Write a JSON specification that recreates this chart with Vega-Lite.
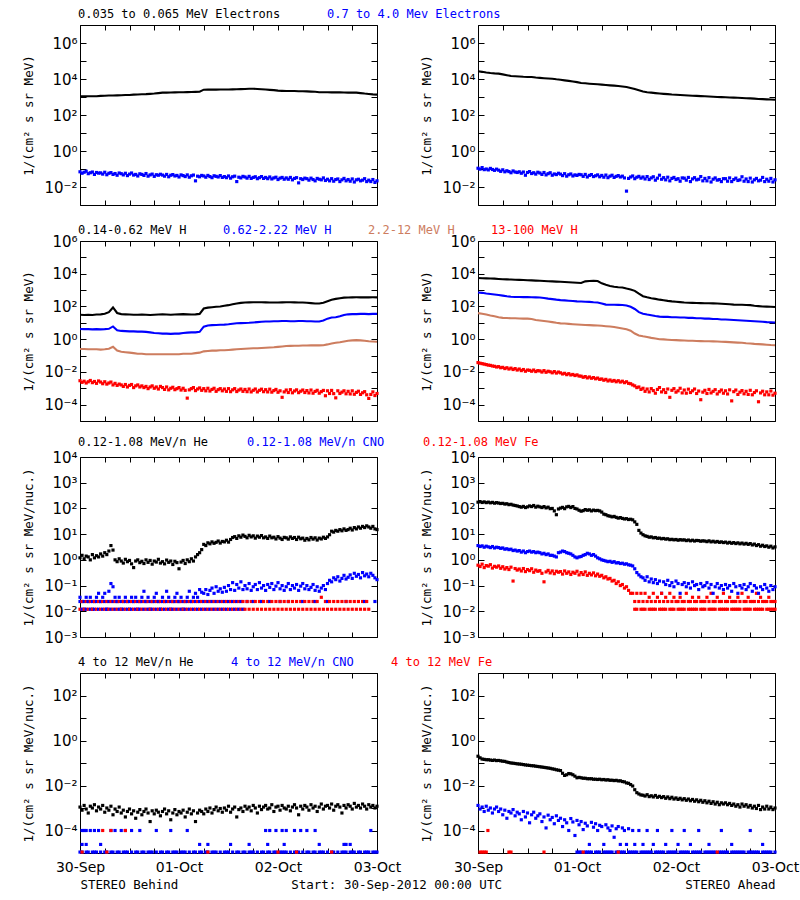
{
"$schema": "https://vega.github.io/schema/vega-lite/v6.json",
"background": "white",
"padding": {"left": 22, "top": 7, "right": 0, "bottom": 0},
"autosize": {"type": "pad"},
"config": {
  "view": {"stroke": "#000000", "strokeWidth": 1},
  "font": "DejaVu Sans",
  "axis": {"domain": false, "grid": false, "tickColor": "#000000", "labelColor": "#000000", "titleColor": "#000000", "labelFont": "DejaVu Sans", "labelFontSize": 14, "titleFont": "DejaVu Sans Mono", "titleFontSize": 12.5, "titleFontWeight": "normal", "labelFlush": false, "labelOverlap": false},
  "axisY": {"labelFontSize": 15},
  "square": {"opacity": 1, "size": 10, "clip": true},
  "line": {"strokeWidth": 2.1, "clip": true}
},
"concat": [
{
"width": 297, "height": 180,
"data": {"values": [
 {"t": [0,1,2,3,4,5,6,7,8,9,10,11,12,13,14,15,16,17,18,19,20,21,22,23,24,25,26,27,28,29,30,31,32,33,34,35,36,37,38,39,40,41,42,43,44,45,46,47,48,49,50,51,52,53,54,55,56,57,58,59,60,61,62,63,64,65,66,67,68,69,70,71,72],
  "a": [1090,1090,1100,1100,1110,1150,1180,1200,1210,1230,1260,1280,1300,1350,1380,1420,1450,1500,1560,1650,1740,1760,1780,1800,1820,1850,1870,1900,1920,1950,2550,2570,2580,2580,2600,2600,2620,2650,2700,2750,2800,2850,2900,2800,2700,2600,2500,2400,2250,2200,2150,2150,2150,2100,2100,2050,2000,1950,1850,1820,1820,1800,1800,1800,1780,1760,1750,1740,1650,1550,1480,1400,1350],
  "b": []},
 {"t": [0,0.5,1,1.5,2,2.5,3,3.5,4,4.5,5,5.5,6,6.5,7,7.5,8,8.5,9,9.5,10,10.5,11,11.5,12,12.5,13,13.5,14,14.5,15,15.5,16,16.5,17,17.5,18,18.5,19,19.5,20,20.5,21,21.5,22,22.5,23,23.5,24,24.5,25,25.5,26,26.5,27,27.5,28,28.5,29,29.5,30,30.5,31,31.5,32,32.5,33,33.5,34,34.5,35,35.5,36,36.5,37,37.5,38,38.5,39,39.5,40,40.5,41,41.5,42,42.5,43,43.5,44,44.5,45,45.5,46,46.5,47,47.5,48,48.5,49,49.5,50,50.5,51,51.5,52,52.5,53,53.5,54,54.5,55,55.5,56,56.5,57,57.5,58,58.5,59,59.5,60,60.5,61,61.5,62,62.5,63,63.5,64,64.5,65,65.5,66,66.5,67,67.5,68,68.5,69,69.5,70,70.5,71,71.5,72],
  "a": [],
  "b": [0.07,0.058,0.066,0.075,0.055,0.062,0.068,0.05,0.064,0.059,0.061,0.052,0.066,0.048,0.058,0.063,0.05,0.056,0.045,0.06,0.055,0.047,0.058,0.043,0.052,0.06,0.046,0.05,0.041,0.054,0.05,0.044,0.056,0.04,0.047,0.052,0.039,0.048,0.045,0.051,0.046,0.04,0.05,0.037,0.045,0.049,0.041,0.044,0.036,0.047,0.043,0.038,0.047,0.035,0.042,0.046,0.022,0.04,0.037,0.044,0.041,0.035,0.044,0.038,0.033,0.042,0.039,0.036,0.043,0.034,0.038,0.033,0.041,0.031,0.037,0.04,0.02,0.035,0.032,0.039,0.036,0.031,0.039,0.03,0.034,0.037,0.029,0.033,0.038,0.03,0.034,0.029,0.036,0.028,0.032,0.035,0.026,0.031,0.034,0.027,0.032,0.027,0.034,0.025,0.03,0.033,0.017,0.029,0.026,0.031,0.029,0.024,0.031,0.026,0.022,0.03,0.027,0.025,0.032,0.023,0.027,0.022,0.029,0.021,0.026,0.028,0.02,0.025,0.03,0.022,0.026,0.021,0.028,0.019,0.025,0.027,0.022,0.024,0.029,0.02,0.024,0.02,0.026,0.018,0.022]}
]},
"transform": [{"flatten": ["t","a","b"]},{"fold": ["a","b"], "as": ["s","v"]},{"filter": "isValid(datum.v) && datum.v > 0"}],
"encoding": {
  "x": {"field": "t", "type": "quantitative", "scale": {"domain": [0,72], "nice": false, "zero": false}, "axis": null},
  "y": {"field": "v", "type": "quantitative", "scale": {"type": "log", "domain": [0.001,10000000]}, "axis": null},
  "color": {"field": "s", "type": "nominal", "scale": {"domain": ["a","b"], "range": ["#000000","#0000ff"]},
    "legend": {"orient": "top", "direction": "horizontal", "title": null, "values": ["a","b"], "labelExpr": "datum.value == 'a' ? '0.035 to 0.065 MeV Electrons' : '0.7 to 4.0 Mev Electrons'", "labelFont": "DejaVu Sans Mono", "labelFontSize": 12, "labelLimit": 0, "labelOffset": -14, "symbolSize": 0, "symbolStrokeWidth": 0, "symbolOpacity": 0, "symbolType": "circle", "columnPadding": 46, "padding": 0, "offset": 4,
      "encode": {"labels": {"update": {"fill": {"signal": "datum.value == 'a' ? '#000000' : '#0000ff'"}}}}}}
},
"layer": [
  {"transform": [{"filter": "datum.s == 'a'"}], "mark": {"type": "line"}},
  {"transform": [{"filter": "datum.s == 'b'"}], "mark": {"type": "square"},
   "encoding": {
     "x": {"field": "t", "type": "quantitative", "scale": {"domain": [0,72], "nice": false, "zero": false}, "axis": {"orient": "bottom", "values": [0,6,12,18,24,30,36,42,48,54,60,66,72], "tickSize": -5, "labels": false, "title": null}},
     "y": {"field": "v", "type": "quantitative", "scale": {"type": "log", "domain": [0.001,10000000]}, "axis": {"orient": "left", "values": [0.001,0.01,0.1,1,10,100,1000,10000,100000,1000000,10000000], "tickSize": -6, "labelPadding": 9, "title": "1/(cm² s sr MeV)", "titlePadding": 8, "labelExpr": "abs(round(log(datum.value)/LN10)) % 2 == 1 ? '' : '10' + replace(replace(replace(replace(replace(replace(replace(replace(replace('' + round(log(datum.value)/LN10), '-', '⁻'), '0', '⁰'), '1', '¹'), '2', '²'), '3', '³'), '4', '⁴'), '5', '⁵'), '6', '⁶'), '7', '⁷')"}}}},
  {"transform": [{"filter": "datum.t == 0"}], "mark": {"type": "point", "opacity": 0},
   "encoding": {
     "x": {"field": "t", "type": "quantitative", "scale": {"domain": [0,72], "nice": false, "zero": false}, "axis": {"orient": "top", "values": [0,6,12,18,24,30,36,42,48,54,60,66,72], "tickSize": -5, "labels": false, "title": null}},
     "y": {"field": "v", "type": "quantitative", "scale": {"type": "log", "domain": [0.001,10000000]}, "axis": {"orient": "right", "values": [0.001,0.01,0.1,1,10,100,1000,10000,100000,1000000,10000000], "tickSize": -6, "labels": false, "title": null}}}}
],
"resolve": {"axis": {"x": "independent", "y": "independent"}}
},
{
"width": 297, "height": 180,
"data": {"values": [
 {"t": [0,1,2,3,4,5,6,7,8,9,10,11,12,13,14,15,16,17,18,19,20,21,22,23,24,25,26,27,28,29,30,31,32,33,34,35,36,37,38,39,40,41,42,43,44,45,46,47,48,49,50,51,52,53,54,55,56,57,58,59,60,61,62,63,64,65,66,67,68,69,70,71,72],
  "a": [26700,25000,23000,21500,20500,19800,18000,16200,14700,14200,13800,13300,13000,12800,12000,11500,11100,10700,10400,9600,9000,8400,7900,7300,6700,6000,5800,5500,5250,5060,4850,4650,4450,4260,4050,3800,3600,3200,2750,2350,2000,1850,1750,1650,1570,1500,1440,1380,1340,1300,1260,1220,1180,1150,1120,1090,1060,1030,1000,980,960,940,920,900,880,860,840,810,780,760,740,725,710],
  "b": []},
 {"t": [0,0.5,1,1.5,2,2.5,3,3.5,4,4.5,5,5.5,6,6.5,7,7.5,8,8.5,9,9.5,10,10.5,11,11.5,12,12.5,13,13.5,14,14.5,15,15.5,16,16.5,17,17.5,18,18.5,19,19.5,20,20.5,21,21.5,22,22.5,23,23.5,24,24.5,25,25.5,26,26.5,27,27.5,28,28.5,29,29.5,30,30.5,31,31.5,32,32.5,33,33.5,34,34.5,35,35.5,36,36.5,37,37.5,38,38.5,39,39.5,40,40.5,41,41.5,42,42.5,43,43.5,44,44.5,45,45.5,46,46.5,47,47.5,48,48.5,49,49.5,50,50.5,51,51.5,52,52.5,53,53.5,54,54.5,55,55.5,56,56.5,57,57.5,58,58.5,59,59.5,60,60.5,61,61.5,62,62.5,63,63.5,64,64.5,65,65.5,66,66.5,67,67.5,68,68.5,69,69.5,70,70.5,71,71.5,72],
  "a": [],
  "b": [0.11,0.098,0.12,0.092,0.1,0.089,0.108,0.094,0.084,0.098,0.086,0.074,0.09,0.07,0.08,0.072,0.062,0.078,0.068,0.064,0.07,0.058,0.068,0.045,0.064,0.072,0.056,0.062,0.052,0.066,0.06,0.05,0.064,0.047,0.055,0.062,0.045,0.053,0.049,0.058,0.052,0.043,0.055,0.04,0.048,0.053,0.041,0.047,0.044,0.05,0.048,0.039,0.05,0.036,0.044,0.049,0.038,0.042,0.047,0.037,0.044,0.035,0.046,0.033,0.04,0.045,0.034,0.039,0.043,0.036,0.04,0.032,0.0059,0.03,0.036,0.041,0.029,0.035,0.039,0.031,0.036,0.028,0.038,0.026,0.032,0.037,0.024,0.031,0.045,0.027,0.033,0.025,0.035,0.022,0.03,0.034,0.026,0.029,0.021,0.032,0.031,0.024,0.034,0.02,0.028,0.033,0.025,0.027,0.038,0.022,0.03,0.022,0.033,0.019,0.027,0.032,0.024,0.026,0.02,0.029,0.029,0.021,0.032,0.02,0.026,0.031,0.023,0.025,0.037,0.021,0.028,0.02,0.031,0.019,0.025,0.03,0.022,0.024,0.034,0.02,0.027,0.021,0.03,0.019,0.025]}
]},
"transform": [{"flatten": ["t","a","b"]},{"fold": ["a","b"], "as": ["s","v"]},{"filter": "isValid(datum.v) && datum.v > 0"}],
"encoding": {
  "x": {"field": "t", "type": "quantitative", "scale": {"domain": [0,72], "nice": false, "zero": false}, "axis": null},
  "y": {"field": "v", "type": "quantitative", "scale": {"type": "log", "domain": [0.001,10000000]}, "axis": null},
  "color": {"field": "s", "type": "nominal", "scale": {"domain": ["a","b"], "range": ["#000000","#0000ff"]}, "legend": null}
},
"layer": [
  {"transform": [{"filter": "datum.s == 'a'"}], "mark": {"type": "line"}},
  {"transform": [{"filter": "datum.s == 'b'"}], "mark": {"type": "square"},
   "encoding": {
     "x": {"field": "t", "type": "quantitative", "scale": {"domain": [0,72], "nice": false, "zero": false}, "axis": {"orient": "bottom", "values": [0,6,12,18,24,30,36,42,48,54,60,66,72], "tickSize": -5, "labels": false, "title": null}},
     "y": {"field": "v", "type": "quantitative", "scale": {"type": "log", "domain": [0.001,10000000]}, "axis": {"orient": "left", "values": [0.001,0.01,0.1,1,10,100,1000,10000,100000,1000000,10000000], "tickSize": -6, "labelPadding": 9, "title": "1/(cm² s sr MeV)", "titlePadding": 8, "labelExpr": "abs(round(log(datum.value)/LN10)) % 2 == 1 ? '' : '10' + replace(replace(replace(replace(replace(replace(replace(replace(replace('' + round(log(datum.value)/LN10), '-', '⁻'), '0', '⁰'), '1', '¹'), '2', '²'), '3', '³'), '4', '⁴'), '5', '⁵'), '6', '⁶'), '7', '⁷')"}}}},
  {"transform": [{"filter": "datum.t == 0"}], "mark": {"type": "point", "opacity": 0},
   "encoding": {
     "x": {"field": "t", "type": "quantitative", "scale": {"domain": [0,72], "nice": false, "zero": false}, "axis": {"orient": "top", "values": [0,6,12,18,24,30,36,42,48,54,60,66,72], "tickSize": -5, "labels": false, "title": null}},
     "y": {"field": "v", "type": "quantitative", "scale": {"type": "log", "domain": [0.001,10000000]}, "axis": {"orient": "right", "values": [0.001,0.01,0.1,1,10,100,1000,10000,100000,1000000,10000000], "tickSize": -6, "labels": false, "title": null}}}}
],
"resolve": {"axis": {"x": "independent", "y": "independent"}}
},
{
"width": 297, "height": 180,
"data": {"values": [
 {"t": [0,1,2,3,4,5,6,7,8,9,10,11,12,13,14,15,16,17,18,19,20,21,22,23,24,25,26,27,28,29,30,31,32,33,34,35,36,37,38,39,40,41,42,43,44,45,46,47,48,49,50,51,52,53,54,55,56,57,58,59,60,61,62,63,64,65,66,67,68,69,70,71,72],
  "a": [31,30,31,30,32,33,36,45,87,40,34,33,32,31,31,32,31,30,31,32,33,32,31,32,33,34,33,32,33,35,75,85,90,95,100,110,120,135,150,165,175,178,180,182,180,178,176,175,176,178,180,180,178,176,175,170,160,150,150,170,210,260,290,320,345,355,360,362,360,358,360,362,360],
  "b": [4.2,4.1,4.1,4.0,4.1,4.0,4.1,4.3,6.0,3.5,3.2,3.1,3.0,3.0,2.9,2.9,2.8,2.6,2.4,2.3,2.2,2.2,2.1,2.2,2.2,2.4,2.5,2.6,2.6,2.8,5.8,6.8,7.2,7.4,7.6,7.8,8.2,8.8,9.4,9.6,9.8,10,10.5,11,11.5,12,12,12.5,12.5,13,13,12.5,12.5,13,13,12.5,12.5,12,12,14,18,21,22,25,30,33,34,34,35,35,34,35,35],
  "c": [0.25,0.25,0.24,0.24,0.24,0.23,0.24,0.26,0.34,0.2,0.17,0.16,0.15,0.14,0.13,0.13,0.12,0.12,0.12,0.12,0.12,0.12,0.12,0.12,0.12,0.13,0.13,0.13,0.14,0.15,0.18,0.19,0.2,0.2,0.21,0.21,0.22,0.23,0.24,0.25,0.26,0.27,0.28,0.28,0.29,0.3,0.31,0.32,0.34,0.36,0.38,0.39,0.4,0.4,0.41,0.41,0.42,0.42,0.42,0.43,0.48,0.55,0.6,0.65,0.72,0.8,0.85,0.87,0.85,0.8,0.75,0.72,0.7],
  "d": []},
 {"t": [0,0.5,1,1.5,2,2.5,3,3.5,4,4.5,5,5.5,6,6.5,7,7.5,8,8.5,9,9.5,10,10.5,11,11.5,12,12.5,13,13.5,14,14.5,15,15.5,16,16.5,17,17.5,18,18.5,19,19.5,20,20.5,21,21.5,22,22.5,23,23.5,24,24.5,25,25.5,26,26.5,27,27.5,28,28.5,29,29.5,30,30.5,31,31.5,32,32.5,33,33.5,34,34.5,35,35.5,36,36.5,37,37.5,38,38.5,39,39.5,40,40.5,41,41.5,42,42.5,43,43.5,44,44.5,45,45.5,46,46.5,47,47.5,48,48.5,49,49.5,50,50.5,51,51.5,52,52.5,53,53.5,54,54.5,55,55.5,56,56.5,57,57.5,58,58.5,59,59.5,60,60.5,61,61.5,62,62.5,63,63.5,64,64.5,65,65.5,66,66.5,67,67.5,68,68.5,69,69.5,70,70.5,71,71.5,72],
  "a": [], "b": [], "c": [],
  "d": [2.9e-3,2.3e-3,2.7e-3,2.1e-3,2.5e-3,3.0e-3,2.2e-3,2.6e-3,2.0e-3,2.8e-3,2.4e-3,1.9e-3,2.5e-3,1.8e-3,2.1e-3,2.4e-3,1.6e-3,2.0e-3,1.5e-3,1.8e-3,1.6e-3,1.3e-3,1.7e-3,1.2e-3,1.5e-3,1.7e-3,1.1e-3,1.4e-3,1.6e-3,1.2e-3,1.4e-3,1.1e-3,1.3e-3,9.5e-4,1.2e-3,1.4e-3,1.0e-3,1.2e-3,9e-4,1.3e-3,1.1e-3,8.5e-4,1.2e-3,8e-4,1.0e-3,1.15e-3,8.2e-4,9.5e-4,1.1e-3,7.8e-4,1.0e-3,7.5e-4,2.5e-4,8e-4,9.5e-4,1.1e-3,7.2e-4,9e-4,1.05e-3,7.5e-4,9.5e-4,7e-4,1.0e-3,6.8e-4,8.5e-4,1.0e-3,6.5e-4,8.2e-4,9.5e-4,7e-4,9e-4,6.5e-4,9.5e-4,6.2e-4,8e-4,9.5e-4,6.3e-4,7.8e-4,9e-4,6.5e-4,8.5e-4,6.2e-4,9e-4,6e-4,7.5e-4,9e-4,6e-4,7.5e-4,8.8e-4,6.2e-4,8.2e-4,6e-4,8.8e-4,5.8e-4,7.2e-4,8.5e-4,5.7e-4,7e-4,2.8e-4,6e-4,7.8e-4,5.5e-4,8.2e-4,5.3e-4,6.8e-4,8e-4,5.4e-4,6.6e-4,7.8e-4,5.5e-4,7.2e-4,5.2e-4,7.8e-4,5e-4,6.4e-4,7.5e-4,5e-4,6.2e-4,7.4e-4,3.5e-4,7e-4,4.8e-4,7.4e-4,4.7e-4,2.6e-4,7e-4,4.8e-4,5.8e-4,7e-4,4.6e-4,6.5e-4,4.5e-4,7e-4,4.3e-4,5.6e-4,6.6e-4,4.2e-4,5.3e-4,6.2e-4,4e-4,2.4e-4,4.2e-4,6e-4,3.6e-4,4.8e-4]}
]},
"transform": [{"flatten": ["t","a","b","c","d"]},{"fold": ["a","b","c","d"], "as": ["s","v"]},{"filter": "isValid(datum.v) && datum.v > 0"}],
"encoding": {
  "x": {"field": "t", "type": "quantitative", "scale": {"domain": [0,72], "nice": false, "zero": false}, "axis": null},
  "y": {"field": "v", "type": "quantitative", "scale": {"type": "log", "domain": [0.00001,1000000]}, "axis": null},
  "color": {"field": "s", "type": "nominal", "scale": {"domain": ["a","b","c","d"], "range": ["#000000","#0000ff","#cd7d5f","#ff0000"]},
    "legend": {"orient": "top", "direction": "horizontal", "title": null, "values": ["a","b","c","d"], "labelExpr": "datum.value == 'a' ? '0.14-0.62 MeV H' : datum.value == 'b' ? '0.62-2.22 MeV H' : datum.value == 'c' ? '2.2-12 MeV H' : '13-100 MeV H'", "labelFont": "DejaVu Sans Mono", "labelFontSize": 12, "labelLimit": 0, "labelOffset": -14, "symbolSize": 0, "symbolStrokeWidth": 0, "symbolOpacity": 0, "symbolType": "circle", "columnPadding": 36, "padding": 0, "offset": 4,
      "encode": {"labels": {"update": {"fill": {"signal": "datum.value == 'a' ? '#000000' : datum.value == 'b' ? '#0000ff' : datum.value == 'c' ? '#cd7d5f' : '#ff0000'"}}}}}}
},
"layer": [
  {"transform": [{"filter": "datum.s != 'd'"}], "mark": {"type": "line"}},
  {"transform": [{"filter": "datum.s == 'd'"}], "mark": {"type": "square"},
   "encoding": {
     "x": {"field": "t", "type": "quantitative", "scale": {"domain": [0,72], "nice": false, "zero": false}, "axis": {"orient": "bottom", "values": [0,6,12,18,24,30,36,42,48,54,60,66,72], "tickSize": -5, "labels": false, "title": null}},
     "y": {"field": "v", "type": "quantitative", "scale": {"type": "log", "domain": [0.00001,1000000]}, "axis": {"orient": "left", "values": [0.00001,0.0001,0.001,0.01,0.1,1,10,100,1000,10000,100000,1000000], "tickSize": -6, "labelPadding": 9, "title": "1/(cm² s sr MeV)", "titlePadding": 8, "labelExpr": "abs(round(log(datum.value)/LN10)) % 2 == 1 ? '' : '10' + replace(replace(replace(replace(replace(replace(replace(replace(replace('' + round(log(datum.value)/LN10), '-', '⁻'), '0', '⁰'), '1', '¹'), '2', '²'), '3', '³'), '4', '⁴'), '5', '⁵'), '6', '⁶'), '7', '⁷')"}}}},
  {"transform": [{"filter": "datum.t == 0"}], "mark": {"type": "point", "opacity": 0},
   "encoding": {
     "x": {"field": "t", "type": "quantitative", "scale": {"domain": [0,72], "nice": false, "zero": false}, "axis": {"orient": "top", "values": [0,6,12,18,24,30,36,42,48,54,60,66,72], "tickSize": -5, "labels": false, "title": null}},
     "y": {"field": "v", "type": "quantitative", "scale": {"type": "log", "domain": [0.00001,1000000]}, "axis": {"orient": "right", "values": [0.00001,0.0001,0.001,0.01,0.1,1,10,100,1000,10000,100000,1000000], "tickSize": -6, "labels": false, "title": null}}}}
],
"resolve": {"axis": {"x": "independent", "y": "independent"}}
},
{
"width": 297, "height": 180,
"data": {"values": [
 {"t": [0,1,2,3,4,5,6,7,8,9,10,11,12,13,14,15,16,17,18,19,20,21,22,23,24,25,26,27,28,29,30,31,32,33,34,35,36,37,38,39,40,41,42,43,44,45,46,47,48,49,50,51,52,53,54,55,56,57,58,59,60,61,62,63,64,65,66,67,68,69,70,71,72],
  "a": [5430,5300,5200,5100,5000,4800,4600,4500,4400,4300,4200,4100,4000,3900,3800,3700,3600,3500,3400,3300,3200,3100,3000,2900,2800,2700,3400,3600,3700,3600,2600,2100,1800,1600,1500,1450,1250,1100,900,600,420,360,320,290,260,240,220,205,195,185,175,170,165,162,160,158,156,155,150,145,140,135,130,128,126,124,120,110,105,100,97,95,92],
  "b": [720,680,620,580,540,500,460,420,390,380,375,370,370,365,360,350,330,300,280,260,245,235,225,215,205,200,195,190,180,175,150,130,128,126,125,122,115,95,70,45,36,32,29,26,24,23,23,22,22,21,21,20,20,19,19,18,18,17,17,16,16,15.5,15,14.5,14,13.5,13,12.5,12,11.5,11,10.8,10.5],
  "c": [39,36,32,28,25,22,20,19.5,19,19,18.5,18,18,17,15,14,13,12,11,10,9.3,9.0,8.6,8.2,7.9,7.7,7.4,7.2,7.0,6.8,6.6,6.2,5.9,5.5,5.0,4.5,4.0,3.3,2.2,1.7,1.5,1.35,1.2,1.1,1.0,0.97,0.93,0.9,0.87,0.85,0.83,0.81,0.8,0.78,0.76,0.75,0.74,0.73,0.72,0.7,0.68,0.66,0.64,0.62,0.6,0.57,0.55,0.52,0.5,0.48,0.46,0.44,0.43],
  "d": []},
 {"t": [0,0.5,1,1.5,2,2.5,3,3.5,4,4.5,5,5.5,6,6.5,7,7.5,8,8.5,9,9.5,10,10.5,11,11.5,12,12.5,13,13.5,14,14.5,15,15.5,16,16.5,17,17.5,18,18.5,19,19.5,20,20.5,21,21.5,22,22.5,23,23.5,24,24.5,25,25.5,26,26.5,27,27.5,28,28.5,29,29.5,30,30.5,31,31.5,32,32.5,33,33.5,34,34.5,35,35.5,36,36.5,37,37.5,38,38.5,39,39.5,40,40.5,41,41.5,42,42.5,43,43.5,44,44.5,45,45.5,46,46.5,47,47.5,48,48.5,49,49.5,50,50.5,51,51.5,52,52.5,53,53.5,54,54.5,55,55.5,56,56.5,57,57.5,58,58.5,59,59.5,60,60.5,61,61.5,62,62.5,63,63.5,64,64.5,65,65.5,66,66.5,67,67.5,68,68.5,69,69.5,70,70.5,71,71.5,72],
  "a": [], "b": [], "c": [],
  "d": [0.037,0.034,0.032,0.03,0.028,0.026,0.025,0.023,0.022,0.02,0.021,0.018,0.019,0.016,0.018,0.015,0.017,0.014,0.016,0.013,0.015,0.012,0.014,0.011,0.013,0.0125,0.011,0.013,0.0105,0.012,0.0115,0.0098,0.012,0.0095,0.011,0.0102,0.0088,0.0105,0.0085,0.0098,0.0088,0.0075,0.0082,0.0068,0.0078,0.0065,0.007,0.006,0.0066,0.0056,0.0055,0.0047,0.0052,0.0043,0.0049,0.0041,0.0045,0.0038,0.0042,0.0035,0.0037,0.0031,0.0035,0.0028,0.0032,0.0027,0.003,0.0025,0.0029,0.0024,0.0027,0.0022,0.0025,0.002,0.0019,0.0016,0.0014,0.0011,0.0012,0.00085,0.001,0.00065,0.0009,0.0006,0.00095,0.00072,0.0005,0.00085,0.0011,0.0006,0.00082,0.00055,0.0009,0.00028,0.00075,0.00095,0.00058,0.0007,0.001,0.00052,0.00078,0.0005,0.00088,0.00055,0.0007,0.0009,0.00048,0.00068,0.0002,0.00058,0.00075,0.00048,0.00085,0.00052,0.00065,0.00082,0.00045,0.00062,0.00078,0.0005,0.0007,0.00045,0.0008,0.00017,0.00062,0.00078,0.00042,0.00058,0.00072,0.00046,0.00065,0.00042,0.00075,0.0004,0.00055,0.0007,0.00015,0.00052,0.00066,0.0004,0.0006,0.0004,0.00068,0.00038,0.0005]}
]},
"transform": [{"flatten": ["t","a","b","c","d"]},{"fold": ["a","b","c","d"], "as": ["s","v"]},{"filter": "isValid(datum.v) && datum.v > 0"}],
"encoding": {
  "x": {"field": "t", "type": "quantitative", "scale": {"domain": [0,72], "nice": false, "zero": false}, "axis": null},
  "y": {"field": "v", "type": "quantitative", "scale": {"type": "log", "domain": [0.00001,1000000]}, "axis": null},
  "color": {"field": "s", "type": "nominal", "scale": {"domain": ["a","b","c","d"], "range": ["#000000","#0000ff","#cd7d5f","#ff0000"]}, "legend": null}
},
"layer": [
  {"transform": [{"filter": "datum.s != 'd'"}], "mark": {"type": "line"}},
  {"transform": [{"filter": "datum.s == 'd'"}], "mark": {"type": "square"},
   "encoding": {
     "x": {"field": "t", "type": "quantitative", "scale": {"domain": [0,72], "nice": false, "zero": false}, "axis": {"orient": "bottom", "values": [0,6,12,18,24,30,36,42,48,54,60,66,72], "tickSize": -5, "labels": false, "title": null}},
     "y": {"field": "v", "type": "quantitative", "scale": {"type": "log", "domain": [0.00001,1000000]}, "axis": {"orient": "left", "values": [0.00001,0.0001,0.001,0.01,0.1,1,10,100,1000,10000,100000,1000000], "tickSize": -6, "labelPadding": 9, "title": "1/(cm² s sr MeV)", "titlePadding": 8, "labelExpr": "abs(round(log(datum.value)/LN10)) % 2 == 1 ? '' : '10' + replace(replace(replace(replace(replace(replace(replace(replace(replace('' + round(log(datum.value)/LN10), '-', '⁻'), '0', '⁰'), '1', '¹'), '2', '²'), '3', '³'), '4', '⁴'), '5', '⁵'), '6', '⁶'), '7', '⁷')"}}}},
  {"transform": [{"filter": "datum.t == 0"}], "mark": {"type": "point", "opacity": 0},
   "encoding": {
     "x": {"field": "t", "type": "quantitative", "scale": {"domain": [0,72], "nice": false, "zero": false}, "axis": {"orient": "top", "values": [0,6,12,18,24,30,36,42,48,54,60,66,72], "tickSize": -5, "labels": false, "title": null}},
     "y": {"field": "v", "type": "quantitative", "scale": {"type": "log", "domain": [0.00001,1000000]}, "axis": {"orient": "right", "values": [0.00001,0.0001,0.001,0.01,0.1,1,10,100,1000,10000,100000,1000000], "tickSize": -6, "labels": false, "title": null}}}}
],
"resolve": {"axis": {"x": "independent", "y": "independent"}}
},
{
"width": 297, "height": 180,
"data": {"values": [
 {"t": [0,0.5,1,1.5,2,2.5,3,3.5,4,4.5,5,5.5,6,6.5,7,7.5,8,8.5,9,9.5,10,10.5,11,11.5,12,12.5,13,13.5,14,14.5,15,15.5,16,16.5,17,17.5,18,18.5,19,19.5,20,20.5,21,21.5,22,22.5,23,23.5,24,24.5,25,25.5,26,26.5,27,27.5,28,28.5,29,29.5,30,30.5,31,31.5,32,32.5,33,33.5,34,34.5,35,35.5,36,36.5,37,37.5,38,38.5,39,39.5,40,40.5,41,41.5,42,42.5,43,43.5,44,44.5,45,45.5,46,46.5,47,47.5,48,48.5,49,49.5,50,50.5,51,51.5,52,52.5,53,53.5,54,54.5,55,55.5,56,56.5,57,57.5,58,58.5,59,59.5,60,60.5,61,61.5,62,62.5,63,63.5,64,64.5,65,65.5,66,66.5,67,67.5,68,68.5,69,69.5,70,70.5,71,71.5,72],
  "a": [1.2,1.5,1.1,1.4,1.3,1.0,1.6,1.2,1.45,1.3,1.7,1.4,1.9,1.6,2.2,3.6,2.4,1.0,0.85,1.1,0.9,0.75,1.05,0.85,0.95,0.7,0.5,0.9,1.0,0.78,0.88,0.72,1.0,0.8,0.95,0.68,0.9,0.82,1.05,0.75,0.85,0.7,0.98,0.8,0.9,0.66,0.88,0.78,0.45,0.82,0.95,0.72,1.0,0.85,1.1,0.9,1.3,1.6,1.9,2.5,4.0,3.6,4.6,4.2,5.0,4.4,4.8,5.4,4.5,5.2,5.0,5.8,4.9,6.2,7.4,8.0,6.8,8.6,7.6,9.2,8.2,7.2,9.0,7.8,8.6,7.0,8.4,7.6,8.8,7.2,7.8,6.8,8.4,7.2,7.6,6.5,8.0,7.0,6.2,7.5,7.2,6.4,7.8,6.8,7.4,6.2,7.6,6.6,7.0,5.8,6.8,6.0,7.4,6.4,7.2,5.9,7.0,6.5,7.6,6.8,7.8,9.5,13,12,14,13,15,13.5,16,14,15,17,14.5,18,16,19,17,20,18,21,19,17,20,16,15],
  "b": [0.035,0.024,0.012,0.035,0.024,0.035,0.012,0.024,0.035,0.05,0.024,0.035,0.05,0.012,0.06,0.12,0.09,0.035,0.024,0.035,0.012,0.024,0.035,0.024,0.012,0.035,0.024,0.035,0.012,0.024,0.035,0.06,0.024,0.035,0.012,0.024,0.035,0.05,0.024,0.012,0.035,0.024,0.06,0.035,0.012,0.024,0.035,0.05,0.024,0.035,0.012,0.024,0.035,0.06,0.024,0.035,0.05,0.035,0.07,0.055,0.05,0.07,0.045,0.065,0.08,0.05,0.09,0.06,0.075,0.055,0.085,0.06,0.1,0.07,0.13,0.065,0.11,0.08,0.14,0.07,0.1,0.075,0.12,0.065,0.09,0.11,0.07,0.13,0.08,0.1,0.065,0.11,0.085,0.12,0.07,0.095,0.13,0.075,0.1,0.065,0.09,0.12,0.07,0.1,0.08,0.11,0.065,0.095,0.12,0.075,0.1,0.07,0.085,0.11,0.065,0.09,0.06,0.08,0.1,0.07,0.12,0.16,0.14,0.2,0.17,0.22,0.15,0.19,0.25,0.18,0.21,0.26,0.19,0.3,0.23,0.27,0.2,0.32,0.24,0.28,0.22,0.3,0.25,0.2,0.17],
  "b2": [0.024,0.012,0.024,0.012,0.024,0.012,0.024,0.012,0.024,0.012,0.024,0.012,0.024,0.012,0.024,0.012,0.024,0.012,0.024,0.012,0.024,0.012,0.024,0.012,0.024,0.012,0.024,0.012,0.024,0.012,0.024,0.012,0.024,0.012,0.024,0.012,0.024,0.012,0.024,0.012,0.024,0.012,0.024,0.012,0.024,0.012,0.024,0.012,0.024,0.012,0.024,0.012,0.024,0.012,0.024,0.012,0.024,0.012,0.024,0.012,0.024,0.012,0.024,0.012,0.024,0.012,0.024,0.012,0.024,0.012,0.024,0.012,0.024,0.012,0.024,0.012,0.024,0.012,0.024,0.012,null,0.024,null,null,0.024,null,null,null,0.024,null,null,null,0.024,null,null,null,null,0.024,null,null,null,0.024,null,null,null,null,null,null,0.024,null,null,null,null,null,0.024,null,null,null,null,null,0.024,null,null,null,null,null,null,null,null,0.024,null,null,null,null,null,null,null,null,0.024,null,null,null,null,0.024,null],
  "c": [0.012,0.024,0.012,0.024,0.012,0.024,0.012,0.024,0.012,0.024,0.012,0.024,0.012,0.024,0.012,0.024,0.012,0.024,0.012,0.024,0.012,0.024,0.012,0.024,0.012,0.024,0.012,0.024,0.012,0.024,0.012,0.024,0.012,0.024,0.012,0.024,0.012,0.024,0.012,0.024,0.012,0.024,0.012,0.024,0.012,0.024,0.012,0.024,0.012,0.024,0.012,0.024,0.012,0.024,0.012,0.024,0.012,0.024,0.012,0.024,0.012,0.024,0.012,0.024,0.012,0.024,0.012,0.024,0.012,0.024,0.012,0.024,0.012,0.024,0.012,0.024,0.012,0.024,0.012,0.024,0.012,0.024,0.012,0.024,0.012,0.024,0.012,0.024,0.012,0.024,0.012,0.024,0.012,0.024,0.012,0.024,0.012,0.024,0.012,0.024,0.012,0.024,0.012,0.024,0.012,0.024,0.012,0.024,0.012,0.024,0.012,0.024,0.012,0.024,0.012,0.024,0.012,0.035,0.012,0.024,0.012,0.024,0.012,0.024,0.012,0.024,0.012,0.024,0.012,0.024,0.012,0.024,0.012,0.024,0.012,0.024,0.012,0.024,0.012,0.024,0.012],
  "c2": []}
]},
"transform": [{"flatten": ["t","a","b","b2","c","c2"]},{"fold": ["a","b2","b","c","c2"], "as": ["s","v"]},{"filter": "isValid(datum.v) && datum.v > 0"}],
"encoding": {
  "x": {"field": "t", "type": "quantitative", "scale": {"domain": [0,72], "nice": false, "zero": false}, "axis": null},
  "y": {"field": "v", "type": "quantitative", "scale": {"type": "log", "domain": [0.001,10000]}, "axis": null},
  "color": {"field": "s", "type": "nominal", "scale": {"domain": ["a","b","c","b2","c2"], "range": ["#000000","#0000ff","#ff0000","#0000ff","#ff0000"]},
    "legend": {"orient": "top", "direction": "horizontal", "title": null, "values": ["a","b","c"], "labelExpr": "datum.value == 'a' ? '0.12-1.08 MeV/n He' : datum.value == 'b' ? '0.12-1.08 MeV/n CNO' : '0.12-1.08 MeV Fe'", "labelFont": "DejaVu Sans Mono", "labelFontSize": 12, "labelLimit": 0, "labelOffset": -14, "symbolSize": 0, "symbolStrokeWidth": 0, "symbolOpacity": 0, "symbolType": "circle", "columnPadding": 38, "padding": 0, "offset": 8,
      "encode": {"labels": {"update": {"fill": {"signal": "datum.value == 'a' ? '#000000' : datum.value == 'b' ? '#0000ff' : '#ff0000'"}}}}}}
},
"layer": [
  {"mark": {"type": "square"},
   "encoding": {
     "x": {"field": "t", "type": "quantitative", "scale": {"domain": [0,72], "nice": false, "zero": false}, "axis": {"orient": "bottom", "values": [0,6,12,18,24,30,36,42,48,54,60,66,72], "tickSize": -5, "labels": false, "title": null}},
     "y": {"field": "v", "type": "quantitative", "scale": {"type": "log", "domain": [0.001,10000]}, "axis": {"orient": "left", "values": [0.001,0.01,0.1,1,10,100,1000,10000], "tickSize": -6, "labelPadding": 9, "title": "1/(cm² s sr MeV/nuc.)", "titlePadding": 8, "labelExpr": "'10' + replace(replace(replace(replace(replace(replace(replace(replace(replace('' + round(log(datum.value)/LN10), '-', '⁻'), '0', '⁰'), '1', '¹'), '2', '²'), '3', '³'), '4', '⁴'), '5', '⁵'), '6', '⁶'), '7', '⁷')"}}}},
  {"transform": [{"filter": "datum.t == 0"}], "mark": {"type": "point", "opacity": 0},
   "encoding": {
     "x": {"field": "t", "type": "quantitative", "scale": {"domain": [0,72], "nice": false, "zero": false}, "axis": {"orient": "top", "values": [0,6,12,18,24,30,36,42,48,54,60,66,72], "tickSize": -5, "labels": false, "title": null}},
     "y": {"field": "v", "type": "quantitative", "scale": {"type": "log", "domain": [0.001,10000]}, "axis": {"orient": "right", "values": [0.001,0.01,0.1,1,10,100,1000,10000], "tickSize": -6, "labels": false, "title": null}}}}
],
"resolve": {"axis": {"x": "independent", "y": "independent"}}
},
{
"width": 297, "height": 180,
"data": {"values": [
 {"t": [0,0.5,1,1.5,2,2.5,3,3.5,4,4.5,5,5.5,6,6.5,7,7.5,8,8.5,9,9.5,10,10.5,11,11.5,12,12.5,13,13.5,14,14.5,15,15.5,16,16.5,17,17.5,18,18.5,19,19.5,20,20.5,21,21.5,22,22.5,23,23.5,24,24.5,25,25.5,26,26.5,27,27.5,28,28.5,29,29.5,30,30.5,31,31.5,32,32.5,33,33.5,34,34.5,35,35.5,36,36.5,37,37.5,38,38.5,39,39.5,40,40.5,41,41.5,42,42.5,43,43.5,44,44.5,45,45.5,46,46.5,47,47.5,48,48.5,49,49.5,50,50.5,51,51.5,52,52.5,53,53.5,54,54.5,55,55.5,56,56.5,57,57.5,58,58.5,59,59.5,60,60.5,61,61.5,62,62.5,63,63.5,64,64.5,65,65.5,66,66.5,67,67.5,68,68.5,69,69.5,70,70.5,71,71.5,72],
  "a": [175,185,170,180,168,176,165,172,160,168,162,155,158,148,152,140,145,135,130,125,118,112,120,108,115,125,118,130,112,122,115,108,118,105,112,98,100,80,57,95,103,110,98,115,120,108,118,100,95,85,78,82,90,85,88,80,86,82,84,80,72,60,57,52,50,47,49,45,42,44,41,39,40,37,38,36,30,24,14,11,9.5,8.6,8.2,7.6,7.8,7.2,7.4,6.9,7.0,6.6,6.8,6.4,6.6,6.1,6.3,6.0,6.2,5.8,6.1,5.9,6.0,5.6,5.9,5.5,5.8,5.4,5.7,5.6,5.3,5.5,5.4,5.1,5.5,5.0,5.3,4.9,5.2,4.8,5.0,4.7,4.9,4.5,4.8,4.4,4.7,4.3,4.6,4.2,4.5,4.1,4.4,4.0,4.3,3.8,4.1,3.6,3.9,3.4,3.7,3.3,3.5,3.1,3.4,2.9,3.2],
  "b": [3.6,3.3,3.5,3.1,3.4,3.2,3.0,3.3,2.9,3.1,3.0,2.8,2.9,2.6,2.7,2.5,2.6,2.3,2.4,2.2,2.3,2.0,2.2,1.9,2.1,2.2,2.0,2.1,1.9,2.0,1.9,1.7,1.8,1.6,1.7,1.5,1.5,1.4,1.3,1.9,2.0,2.2,2.1,1.9,1.8,1.7,1.5,1.3,1.2,1.3,1.35,1.5,1.6,1.8,1.7,1.5,1.6,1.4,1.2,1.1,1.0,0.95,0.9,0.85,0.88,0.8,0.85,0.76,0.78,0.72,0.74,0.68,0.7,0.64,0.62,0.58,0.45,0.32,0.26,0.22,0.2,0.16,0.22,0.14,0.18,0.13,0.17,0.12,0.15,0.05,0.14,0.11,0.16,0.1,0.13,0.09,0.15,0.12,0.05,0.11,0.13,0.09,0.12,0.08,0.14,0.1,0.11,0.07,0.12,0.09,0.1,0.13,0.08,0.11,0.05,0.09,0.12,0.08,0.1,0.07,0.11,0.08,0.1,0.06,0.12,0.09,0.05,0.1,0.08,0.11,0.07,0.09,0.12,0.06,0.1,0.08,0.05,0.09,0.07,0.11,0.08,0.06,0.1,0.07,0.09],
  "b2": [],
  "c": [0.62,0.55,0.68,0.5,0.6,0.57,0.65,0.48,0.56,0.52,0.58,0.47,0.54,0.44,0.5,0.42,0.52,0.15,0.46,0.4,0.44,0.37,0.46,0.35,0.42,0.38,0.45,0.33,0.4,0.36,0.38,0.3,0.14,0.34,0.39,0.31,0.37,0.29,0.36,0.33,0.35,0.28,0.37,0.3,0.34,0.27,0.33,0.3,0.36,0.26,0.32,0.27,0.34,0.25,0.3,0.26,0.31,0.24,0.28,0.23,0.25,0.2,0.22,0.18,0.19,0.15,0.16,0.12,0.14,0.1,0.11,0.08,0.09,0.065,0.05,0.05,0.024,0.05,0.024,0.05,0.024,0.05,0.024,0.035,0.024,0.05,0.024,0.035,0.024,0.05,0.024,0.035,0.024,0.05,0.024,0.035,0.024,0.024,0.035,0.024,0.024,0.05,0.024,0.024,0.035,0.024,0.024,0.035,0.024,0.024,0.024,0.035,0.024,0.05,0.024,0.024,0.035,0.024,0.024,0.05,0.024,0.024,0.035,0.024,0.024,0.024,0.035,0.024,0.05,0.024,0.024,0.035,0.024,0.024,0.024,0.05,0.024,0.035,0.024,0.024,0.024,0.035,0.024,0.024,0.024],
  "c2": []},
 {"t": [38,38.5,39,39.5,40,40.5,41,41.5,42,42.5,43,43.5,44,44.5,45,45.5,46,46.5,47,47.5,48,48.5,49,49.5,50,50.5,51,51.5,52,52.5,53,53.5,54,54.5,55,55.5,56,56.5,57,57.5,58,58.5,59,59.5,60,60.5,61,61.5,62,62.5,63,63.5,64,64.5,65,65.5,66,66.5,67,67.5,68,68.5,69,69.5,70,70.5,71,71.5,72],
  "a": [], "b": [], "b2": [], "c": [],
  "c2": [0.012,0.012,null,0.012,0.012,0.012,null,0.012,0.012,0.012,0.012,null,0.012,0.012,0.012,0.012,null,0.012,0.012,0.012,null,0.012,0.012,0.012,0.012,null,0.012,0.012,0.012,0.012,0.012,null,0.012,0.012,0.012,null,0.012,0.012,0.012,0.012,null,0.012,0.012,0.012,0.012,0.012,null,0.012,0.012,0.012,0.012,0.012,null,0.012,0.012,0.012,0.012,null,0.012,0.012,0.012,0.012,0.012,null,0.012,0.012,0.012,0.012,0.012]}
]},
"transform": [{"flatten": ["t","a","b","b2","c","c2"]},{"fold": ["a","b2","b","c","c2"], "as": ["s","v"]},{"filter": "isValid(datum.v) && datum.v > 0"}],
"encoding": {
  "x": {"field": "t", "type": "quantitative", "scale": {"domain": [0,72], "nice": false, "zero": false}, "axis": null},
  "y": {"field": "v", "type": "quantitative", "scale": {"type": "log", "domain": [0.001,10000]}, "axis": null},
  "color": {"field": "s", "type": "nominal", "scale": {"domain": ["a","b","c","b2","c2"], "range": ["#000000","#0000ff","#ff0000","#0000ff","#ff0000"]}, "legend": null}
},
"layer": [
  {"mark": {"type": "square"},
   "encoding": {
     "x": {"field": "t", "type": "quantitative", "scale": {"domain": [0,72], "nice": false, "zero": false}, "axis": {"orient": "bottom", "values": [0,6,12,18,24,30,36,42,48,54,60,66,72], "tickSize": -5, "labels": false, "title": null}},
     "y": {"field": "v", "type": "quantitative", "scale": {"type": "log", "domain": [0.001,10000]}, "axis": {"orient": "left", "values": [0.001,0.01,0.1,1,10,100,1000,10000], "tickSize": -6, "labelPadding": 9, "title": "1/(cm² s sr MeV/nuc.)", "titlePadding": 8, "labelExpr": "'10' + replace(replace(replace(replace(replace(replace(replace(replace(replace('' + round(log(datum.value)/LN10), '-', '⁻'), '0', '⁰'), '1', '¹'), '2', '²'), '3', '³'), '4', '⁴'), '5', '⁵'), '6', '⁶'), '7', '⁷')"}}}},
  {"transform": [{"filter": "datum.t == 0"}], "mark": {"type": "point", "opacity": 0},
   "encoding": {
     "x": {"field": "t", "type": "quantitative", "scale": {"domain": [0,72], "nice": false, "zero": false}, "axis": {"orient": "top", "values": [0,6,12,18,24,30,36,42,48,54,60,66,72], "tickSize": -5, "labels": false, "title": null}},
     "y": {"field": "v", "type": "quantitative", "scale": {"type": "log", "domain": [0.001,10000]}, "axis": {"orient": "right", "values": [0.001,0.01,0.1,1,10,100,1000,10000], "tickSize": -6, "labels": false, "title": null}}}}
],
"resolve": {"axis": {"x": "independent", "y": "independent"}}
},
{
"width": 297, "height": 180,
"data": {"values": [
 {"t": [0,0.5,1,1.5,2,2.5,3,3.5,4,4.5,5,5.5,6,6.5,7,7.5,8,8.5,9,9.5,10,10.5,11,11.5,12,12.5,13,13.5,14,14.5,15,15.5,16,16.5,17,17.5,18,18.5,19,19.5,20,20.5,21,21.5,22,22.5,23,23.5,24,24.5,25,25.5,26,26.5,27,27.5,28,28.5,29,29.5,30,30.5,31,31.5,32,32.5,33,33.5,34,34.5,35,35.5,36,36.5,37,37.5,38,38.5,39,39.5,40,40.5,41,41.5,42,42.5,43,43.5,44,44.5,45,45.5,46,46.5,47,47.5,48,48.5,49,49.5,50,50.5,51,51.5,52,52.5,53,53.5,54,54.5,55,55.5,56,56.5,57,57.5,58,58.5,59,59.5,60,60.5,61,61.5,62,62.5,63,63.5,64,64.5,65,65.5,66,66.5,67,67.5,68,68.5,69,69.5,70,70.5,71,71.5,72],
  "a": [1.1e-3,8e-4,1.3e-3,9e-4,6e-4,1.2e-3,1.0e-3,1.4e-3,7.5e-4,1.1e-3,9e-4,1.3e-3,6.5e-4,1.0e-3,8e-4,1.2e-3,5e-4,9e-4,7e-4,1.1e-3,6e-4,8e-4,4e-4,7e-4,9e-4,5.5e-4,7.5e-4,3.5e-4,6.5e-4,8.5e-4,5e-4,7e-4,9e-4,6e-4,2.5e-4,7.5e-4,5.5e-4,8e-4,6.5e-4,4.5e-4,7e-4,9e-4,5.5e-4,7.5e-4,3e-4,6e-4,8.5e-4,5e-4,7e-4,6e-4,8e-4,4e-4,6.5e-4,9e-4,5.5e-4,7.5e-4,2.5e-4,6e-4,8e-4,7e-4,5.5e-4,9e-4,7e-4,1.0e-3,6e-4,8.5e-4,1.1e-3,7.5e-4,9.5e-4,6.5e-4,1.0e-3,8e-4,1.2e-3,6.5e-4,9e-4,1.1e-3,4e-4,8.5e-4,1.0e-3,7e-4,1.2e-3,9e-4,1.1e-3,7.5e-4,1.3e-3,1.0e-3,6e-4,1.2e-3,8.5e-4,1.1e-3,1.3e-3,9e-4,1.0e-3,1.4e-3,7e-4,1.1e-3,1.2e-3,8e-4,1.3e-3,1.0e-3,9e-4,1.2e-3,7.5e-4,1.1e-3,1.4e-3,1.0e-3,5e-4,1.2e-3,9e-4,1.3e-3,1.1e-3,8e-4,1.4e-3,1.0e-3,1.2e-3,7e-4,1.1e-3,1.5e-3,9e-4,1.2e-3,1.3e-3,1.0e-3,1.5e-3,8e-4,1.2e-3,1.4e-3,1.1e-3,6e-4,1.3e-3,1.0e-3,1.4e-3,1.2e-3,9e-4,1.6e-3,1.1e-3,1.3e-3,1.0e-3,1.5e-3,1.2e-3,9e-4,1.4e-3,1.1e-3,1.3e-3,1.0e-3,1.2e-3],
  "b": [1.1e-5,1.1e-5,null,1.1e-5,1.1e-5,null,1.1e-5,1.1e-5,1.1e-5,null,1.1e-5,null,1.1e-5,1.1e-5,null,1.1e-5,1.1e-5,null,1.1e-5,1.1e-5,null,1.1e-5,1.1e-5,1.1e-5,null,1.1e-5,null,1.1e-5,1.1e-5,null,1.1e-5,1.1e-5,null,1.1e-5,1.1e-5,1.1e-5,null,1.1e-5,null,1.1e-5,1.1e-5,null,1.1e-5,1.1e-5,null,1.1e-5,1.1e-5,1.1e-5,null,1.1e-5,1.1e-5,1.1e-5,null,1.1e-5,null,1.1e-5,1.1e-5,null,1.1e-5,1.1e-5,null,1.1e-5,1.1e-5,null,1.1e-5,1.1e-5,1.1e-5,null,1.1e-5,null,1.1e-5,1.1e-5,1.1e-5,null,1.1e-5,null,1.1e-5,1.1e-5,null,1.1e-5,1.1e-5,null,1.1e-5,1.1e-5,1.1e-5,null,1.1e-5,null,1.1e-5,1.1e-5,null,1.1e-5,1.1e-5,null,1.1e-5,1.1e-5,null,1.1e-5,1.1e-5,1.1e-5,1.1e-5,null,1.1e-5,null,1.1e-5,1.1e-5,1.1e-5,null,1.1e-5,null,1.1e-5,1.1e-5,null,1.1e-5,1.1e-5,null,1.1e-5,1.1e-5,1.1e-5,null,1.1e-5,null,1.1e-5,1.1e-5,null,1.1e-5,null,1.1e-5,1.1e-5,1.1e-5,null,1.1e-5,1.1e-5,1.1e-5,null,1.1e-5,1.1e-5,null,1.1e-5,1.1e-5,1.1e-5,null,1.1e-5,1.1e-5,1.1e-5],
  "b2": [], "c": []},
 {"t": [0.5,1,1.5,2.5,3.5,4.5,7.5,8.5,10,11,12.5,14.5,18.5,22,26,45,46,47.5,49,50,52,53.5,55,57,70.5,0.5,1.5,5,29,31,36.5,41,45.5,49.5,58,64,64.5,65.5],
  "a": [], "b": [], "c": [],
  "b2": [1e-4,1e-4,1e-4,1e-4,1e-4,1e-4,1e-4,1e-4,1e-4,1e-4,1e-4,1e-4,1e-4,1e-4,1e-4,1e-4,1e-4,1e-4,1e-4,1e-4,1e-4,1e-4,1e-4,1e-4,1e-4,2.4e-5,2.4e-5,2.4e-5,2.4e-5,2.4e-5,2.4e-5,2.4e-5,2.4e-5,2.4e-5,2.4e-5,2.4e-5,2.4e-5,2.4e-5]},
 {"t": [5.5,7.5,11,0.5,6.5,31,48,52.5,61],
  "a": [], "b": [], "b2": [],
  "c": [1e-4,1e-4,1e-4,1.1e-5,1.1e-5,1.1e-5,1.1e-5,1.1e-5,1.1e-5]}
]},
"transform": [{"flatten": ["t","a","b","b2","c"]},{"fold": ["a","b","b2","c"], "as": ["s","v"]},{"filter": "isValid(datum.v) && datum.v > 0"}],
"encoding": {
  "x": {"field": "t", "type": "quantitative", "scale": {"domain": [0,72], "nice": false, "zero": false}, "axis": null},
  "y": {"field": "v", "type": "quantitative", "scale": {"type": "log", "domain": [0.00001,1000]}, "axis": null},
  "color": {"field": "s", "type": "nominal", "scale": {"domain": ["a","b","c","b2"], "range": ["#000000","#0000ff","#ff0000","#0000ff"]},
    "legend": {"orient": "top", "direction": "horizontal", "title": null, "values": ["a","b","c"], "labelExpr": "datum.value == 'a' ? '4 to 12 MeV/n He' : datum.value == 'b' ? '4 to 12 MeV/n CNO' : '4 to 12 MeV Fe'", "labelFont": "DejaVu Sans Mono", "labelFontSize": 12, "labelLimit": 0, "labelOffset": -14, "symbolSize": 0, "symbolStrokeWidth": 0, "symbolOpacity": 0, "symbolType": "circle", "columnPadding": 37, "padding": 0, "offset": 4,
      "encode": {"labels": {"update": {"fill": {"signal": "datum.value == 'a' ? '#000000' : datum.value == 'b' ? '#0000ff' : '#ff0000'"}}}}}}
},
"layer": [
  {"mark": {"type": "square"},
   "encoding": {
     "x": {"field": "t", "type": "quantitative", "scale": {"domain": [0,72], "nice": false, "zero": false}, "axis": {"orient": "bottom", "values": [0,6,12,18,24,30,36,42,48,54,60,66,72], "tickSize": -5, "labelPadding": 12, "labelExpr": "datum.value == 0 ? '30-Sep' : datum.value == 24 ? '01-Oct' : datum.value == 48 ? '02-Oct' : datum.value == 72 ? '03-Oct' : ''", "title": "STEREO Behind\u00a0\u00a0\u00a0\u00a0\u00a0\u00a0\u00a0\u00a0\u00a0\u00a0\u00a0\u00a0\u00a0\u00a0\u00a0Start: 30-Sep-2012 00:00 UTC", "titleAnchor": "start", "titlePadding": 4}},
     "y": {"field": "v", "type": "quantitative", "scale": {"type": "log", "domain": [0.00001,1000]}, "axis": {"orient": "left", "values": [0.00001,0.0001,0.001,0.01,0.1,1,10,100,1000], "tickSize": -6, "labelPadding": 9, "title": "1/(cm² s sr MeV/nuc.)", "titlePadding": 8, "labelExpr": "abs(round(log(datum.value)/LN10)) % 2 == 1 ? '' : '10' + replace(replace(replace(replace(replace(replace(replace(replace(replace('' + round(log(datum.value)/LN10), '-', '⁻'), '0', '⁰'), '1', '¹'), '2', '²'), '3', '³'), '4', '⁴'), '5', '⁵'), '6', '⁶'), '7', '⁷')"}}}},
  {"transform": [{"filter": "datum.t == 0"}], "mark": {"type": "point", "opacity": 0},
   "encoding": {
     "x": {"field": "t", "type": "quantitative", "scale": {"domain": [0,72], "nice": false, "zero": false}, "axis": {"orient": "top", "values": [0,6,12,18,24,30,36,42,48,54,60,66,72], "tickSize": -5, "labels": false, "title": null}},
     "y": {"field": "v", "type": "quantitative", "scale": {"type": "log", "domain": [0.00001,1000]}, "axis": {"orient": "right", "values": [0.00001,0.0001,0.001,0.01,0.1,1,10,100,1000], "tickSize": -6, "labels": false, "title": null}}}}
],
"resolve": {"axis": {"x": "independent", "y": "independent"}}
},
{
"width": 297, "height": 180,
"data": {"values": [
 {"t": [0,0.5,1,1.5,2,2.5,3,3.5,4,4.5,5,5.5,6,6.5,7,7.5,8,8.5,9,9.5,10,10.5,11,11.5,12,12.5,13,13.5,14,14.5,15,15.5,16,16.5,17,17.5,18,18.5,19,19.5,20,20.5,21,21.5,22,22.5,23,23.5,24,24.5,25,25.5,26,26.5,27,27.5,28,28.5,29,29.5,30,30.5,31,31.5,32,32.5,33,33.5,34,34.5,35,35.5,36,36.5,37,37.5,38,38.5,39,39.5,40,40.5,41,41.5,42,42.5,43,43.5,44,44.5,45,45.5,46,46.5,47,47.5,48,48.5,49,49.5,50,50.5,51,51.5,52,52.5,53,53.5,54,54.5,55,55.5,56,56.5,57,57.5,58,58.5,59,59.5,60,60.5,61,61.5,62,62.5,63,63.5,64,64.5,65,65.5,66,66.5,67,67.5,68,68.5,69,69.5,70,70.5,71,71.5,72],
  "a": [0.2,0.17,0.15,0.145,0.14,0.14,0.135,0.13,0.135,0.128,0.13,0.125,0.12,0.118,0.11,0.105,0.1,0.098,0.095,0.092,0.09,0.088,0.085,0.082,0.08,0.078,0.076,0.075,0.072,0.07,0.068,0.066,0.064,0.062,0.06,0.058,0.055,0.053,0.05,0.048,0.046,0.035,0.028,0.03,0.034,0.033,0.03,0.026,0.022,0.023,0.022,0.021,0.021,0.02,0.02,0.02,0.019,0.019,0.0185,0.019,0.018,0.0185,0.0175,0.018,0.017,0.0172,0.0165,0.017,0.016,0.0162,0.015,0.0145,0.013,0.0125,0.011,0.0095,0.0065,0.0048,0.0042,0.0038,0.0037,0.0034,0.0039,0.0032,0.0035,0.0031,0.0036,0.003,0.0033,0.0029,0.0032,0.0027,0.0031,0.0026,0.003,0.0025,0.0028,0.0024,0.0027,0.0023,0.0026,0.0022,0.0025,0.0021,0.0024,0.002,0.0023,0.0019,0.0022,0.0018,0.0021,0.0017,0.002,0.0016,0.0019,0.0015,0.0018,0.0014,0.0017,0.0015,0.0017,0.0014,0.0016,0.0013,0.0015,0.0012,0.0014,0.0011,0.0015,0.0012,0.0014,0.0011,0.0013,0.001,0.0012,0.00095,0.0013,0.00085,0.0011,0.0009,0.0012,0.0009,0.0011,0.00085,0.001],
  "b": [1.3e-3,9e-4,1.1e-3,7e-4,1.2e-3,8e-4,1.0e-3,6e-4,9e-4,1.1e-3,7e-4,9e-4,5e-4,8e-4,3.5e-4,7e-4,6e-4,8.5e-4,4.5e-4,6.5e-4,5.5e-4,3e-4,7e-4,4e-4,6e-4,2.2e-4,5e-4,6.5e-4,3.5e-4,4.5e-4,5.5e-4,2.5e-4,4e-4,1.3e-4,4.8e-4,3e-4,3.8e-4,2e-4,4.5e-4,2.8e-4,3.5e-4,1.5e-4,3e-4,2.2e-4,1e-4,3.4e-4,2.4e-4,6e-5,2.8e-4,1.8e-4,2.5e-4,1.1e-4,2.1e-4,1.6e-4,2.4e-5,2.3e-4,1.4e-4,2e-4,1e-4,1.7e-4,1.5e-4,2.4e-5,1.8e-4,1.3e-4,1e-4,1.6e-4,5e-5,1.2e-4,1.5e-4,2.4e-5,1.3e-4,1e-4,2.4e-5,1.2e-4,null,1e-4,2.4e-5,null,1e-4,null,2.4e-5,null,1e-4,null,null,2.4e-5,null,1e-4,null,null,null,2.4e-5,null,null,1e-4,null,null,2.4e-5,null,null,1e-4,null,null,2.4e-5,null,null,null,1e-4,null,null,null,null,2.4e-5,null,null,null,null,null,1e-4,null,null,null,null,2.4e-5,null,null,null,null,null,null,null,null,1e-4,null,null,null,null,null,2.4e-5,null,null,null,null,null,null,2.4e-5],
  "b2": [], "c": []},
 {"t": [24,24.5,25,25.5,26,26.5,27,27.5,28,28.5,29,29.5,30,30.5,31,31.5,32,32.5,33,33.5,34,34.5,35,35.5,36,36.5,37,37.5,38,38.5,39,39.5,40,40.5,41,41.5,42,42.5,43,43.5,44,44.5,45,45.5,46,46.5,47,47.5,48,48.5,49,49.5,50,50.5,51,51.5,52,52.5,53,53.5,54,54.5,55,55.5,56,56.5,57,57.5,58,58.5,59,59.5,60,60.5,61,61.5,62,62.5,63,63.5,64,64.5,65,65.5,66,66.5,67,67.5,68,68.5,69,69.5,70,70.5,71,71.5,72],
  "a": [], "b": [], "c": [],
  "b2": [1.1e-5,1.1e-5,1.1e-5,null,1.1e-5,1.1e-5,1.1e-5,1.1e-5,null,1.1e-5,1.1e-5,1.1e-5,null,1.1e-5,1.1e-5,1.1e-5,1.1e-5,1.1e-5,null,1.1e-5,1.1e-5,1.1e-5,1.1e-5,1.1e-5,null,1.1e-5,1.1e-5,1.1e-5,1.1e-5,1.1e-5,null,1.1e-5,1.1e-5,1.1e-5,1.1e-5,1.1e-5,1.1e-5,null,1.1e-5,1.1e-5,1.1e-5,1.1e-5,1.1e-5,null,1.1e-5,1.1e-5,1.1e-5,1.1e-5,1.1e-5,null,1.1e-5,1.1e-5,1.1e-5,1.1e-5,1.1e-5,null,1.1e-5,1.1e-5,1.1e-5,1.1e-5,1.1e-5,null,1.1e-5,1.1e-5,1.1e-5,1.1e-5,1.1e-5,1.1e-5,null,1.1e-5,1.1e-5,1.1e-5,1.1e-5,1.1e-5,null,1.1e-5,1.1e-5,1.1e-5,1.1e-5,1.1e-5,1.1e-5,1.1e-5,null,1.1e-5,1.1e-5,1.1e-5,1.1e-5,1.1e-5,1.1e-5,null,1.1e-5,1.1e-5,1.1e-5,1.1e-5,1.1e-5,null,1.1e-5]},
 {"t": [0.5,1,1.5,2,2.4,7.5,8,16,25.5,34,58],
  "a": [], "b": [], "b2": [],
  "c": [1.1e-5,1.1e-5,1.1e-5,1.1e-5,1e-4,1.1e-5,1.1e-5,1.1e-5,1.1e-5,1.1e-5,1.1e-5]}
]},
"transform": [{"flatten": ["t","a","b","b2","c"]},{"fold": ["a","b","b2","c"], "as": ["s","v"]},{"filter": "isValid(datum.v) && datum.v > 0"}],
"encoding": {
  "x": {"field": "t", "type": "quantitative", "scale": {"domain": [0,72], "nice": false, "zero": false}, "axis": null},
  "y": {"field": "v", "type": "quantitative", "scale": {"type": "log", "domain": [0.00001,1000]}, "axis": null},
  "color": {"field": "s", "type": "nominal", "scale": {"domain": ["a","b","c","b2"], "range": ["#000000","#0000ff","#ff0000","#0000ff"]}, "legend": null}
},
"layer": [
  {"mark": {"type": "square"},
   "encoding": {
     "x": {"field": "t", "type": "quantitative", "scale": {"domain": [0,72], "nice": false, "zero": false}, "axis": {"orient": "bottom", "values": [0,6,12,18,24,30,36,42,48,54,60,66,72], "tickSize": -5, "labelPadding": 12, "labelExpr": "datum.value == 0 ? '30-Sep' : datum.value == 24 ? '01-Oct' : datum.value == 48 ? '02-Oct' : datum.value == 72 ? '03-Oct' : ''", "title": "STEREO Ahead", "titleAnchor": "end", "titlePadding": 4}},
     "y": {"field": "v", "type": "quantitative", "scale": {"type": "log", "domain": [0.00001,1000]}, "axis": {"orient": "left", "values": [0.00001,0.0001,0.001,0.01,0.1,1,10,100,1000], "tickSize": -6, "labelPadding": 9, "title": "1/(cm² s sr MeV/nuc.)", "titlePadding": 8, "labelExpr": "abs(round(log(datum.value)/LN10)) % 2 == 1 ? '' : '10' + replace(replace(replace(replace(replace(replace(replace(replace(replace('' + round(log(datum.value)/LN10), '-', '⁻'), '0', '⁰'), '1', '¹'), '2', '²'), '3', '³'), '4', '⁴'), '5', '⁵'), '6', '⁶'), '7', '⁷')"}}}},
  {"transform": [{"filter": "datum.t == 0"}], "mark": {"type": "point", "opacity": 0},
   "encoding": {
     "x": {"field": "t", "type": "quantitative", "scale": {"domain": [0,72], "nice": false, "zero": false}, "axis": {"orient": "top", "values": [0,6,12,18,24,30,36,42,48,54,60,66,72], "tickSize": -5, "labels": false, "title": null}},
     "y": {"field": "v", "type": "quantitative", "scale": {"type": "log", "domain": [0.00001,1000]}, "axis": {"orient": "right", "values": [0.00001,0.0001,0.001,0.01,0.1,1,10,100,1000], "tickSize": -6, "labels": false, "title": null}}}}
],
"resolve": {"axis": {"x": "independent", "y": "independent"}}
}
],
"columns": 2,
"spacing": {"row": 36, "column": 101},
"bounds": "flush",
"resolve": {"scale": {"x": "independent", "y": "independent", "color": "independent"}, "legend": {"color": "independent"}, "axis": {"x": "independent", "y": "independent"}}
}
